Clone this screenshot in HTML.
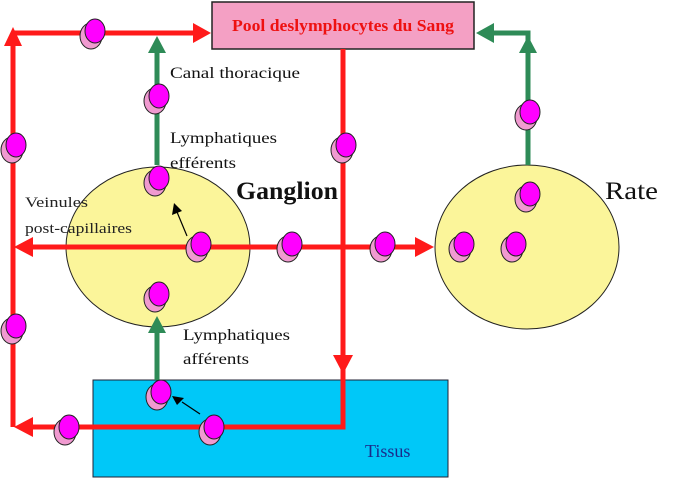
<!DOCTYPE html>
<html><head><meta charset="utf-8"><style>html,body{margin:0;padding:0;background:#fff;}svg{display:block}</style></head>
<body>
<svg width="673" height="479" viewBox="0 0 673 479" xmlns="http://www.w3.org/2000/svg" font-family="Liberation Serif, serif">
<defs>
<g id="c">
<ellipse cx="-3" cy="4" rx="11" ry="13" fill="#f09ad0" stroke="#222" stroke-width="1"/>
<ellipse cx="1" cy="-1" rx="10" ry="12" fill="#ff00ff" stroke="#222" stroke-width="1"/>
</g>
</defs>
<rect x="93" y="380" width="355" height="97" fill="#00c8f8" stroke="#223" stroke-width="1"/>
<text x="365" y="457" font-size="18" fill="#1a2a8a">Tissus</text>
<ellipse cx="158" cy="247" rx="92" ry="80" fill="#fbf59a" stroke="#222" stroke-width="1"/>
<ellipse cx="527" cy="247" rx="92" ry="82" fill="#fbf59a" stroke="#222" stroke-width="1"/>
<rect x="212" y="2" width="262" height="47" fill="#f4a0c4" stroke="#222" stroke-width="1.5"/>
<text x="343" y="31" font-size="17" font-weight="bold" fill="#ee1111" text-anchor="middle" textLength="222" lengthAdjust="spacingAndGlyphs">Pool deslymphocytes du Sang</text>
<g stroke="#ff1a1a" stroke-width="5" fill="none">
<path d="M13 427 V38 M13 33 H195"/>
<path d="M343 49 V427 H25"/>
<path d="M25 247 H418"/>
</g>
<g fill="#ff1a1a">
<polygon points="13,27 4,46 22,46"/>
<polygon points="211,33 193,23 193,43"/>
<polygon points="343,374 333,355 353,355"/>
<polygon points="14,427 33,417 33,437"/>
<polygon points="14,247 33,237 33,257"/>
<polygon points="434,247 415,237 415,257"/>
</g>
<g stroke="#2e8b57" stroke-width="5" fill="none">
<path d="M157 165 V50"/>
<path d="M157 380 V330"/>
<path d="M528 165 V33 H490"/>
</g>
<g fill="#2e8b57">
<polygon points="157,36 148,53 166,53"/>
<polygon points="157,316 148,333 166,333"/>
<polygon points="528,36 519,53 537,53"/>
<polygon points="476,33 494,23 494,43"/>
</g>
<g stroke="#000" stroke-width="1.2"><line x1="187" y1="236" x2="177" y2="212"/><line x1="200" y1="414" x2="182" y2="402"/></g>
<polygon points="174,203 172,215 182,211" fill="#000"/>
<polygon points="172,396 177,405 184,398" fill="#000"/>
<use href="#c" x="94" y="32"/><use href="#c" x="158" y="97"/><use href="#c" x="15" y="146"/>
<use href="#c" x="158" y="179"/><use href="#c" x="345" y="146"/><use href="#c" x="200" y="245"/>
<use href="#c" x="291" y="245"/><use href="#c" x="384" y="245"/><use href="#c" x="158" y="295"/>
<use href="#c" x="15" y="327"/><use href="#c" x="160" y="393"/><use href="#c" x="68" y="428"/>
<use href="#c" x="213" y="428"/><use href="#c" x="463" y="245"/><use href="#c" x="515" y="245"/>
<use href="#c" x="529" y="195"/><use href="#c" x="529" y="113"/>
<g font-size="16" fill="#111">
<text x="170" y="78" textLength="130" lengthAdjust="spacingAndGlyphs">Canal thoracique</text>
<text x="170" y="143" textLength="107" lengthAdjust="spacingAndGlyphs">Lymphatiques</text>
<text x="170" y="168" textLength="66" lengthAdjust="spacingAndGlyphs">efférents</text>
<text x="183" y="340" textLength="107" lengthAdjust="spacingAndGlyphs">Lymphatiques</text>
<text x="183" y="364" textLength="66" lengthAdjust="spacingAndGlyphs">afférents</text>
</g>
<text x="25" y="207" font-size="15" fill="#222" textLength="63" lengthAdjust="spacingAndGlyphs">Veinules</text>
<text x="25" y="233" font-size="15" fill="#222" textLength="107" lengthAdjust="spacingAndGlyphs">post-capillaires</text>
<text x="236" y="199" font-size="25" font-weight="bold" fill="#111" textLength="102" lengthAdjust="spacingAndGlyphs">Ganglion</text>
<text x="605" y="199" font-size="25" fill="#111" textLength="53" lengthAdjust="spacingAndGlyphs">Rate</text>
</svg>
</body></html>
